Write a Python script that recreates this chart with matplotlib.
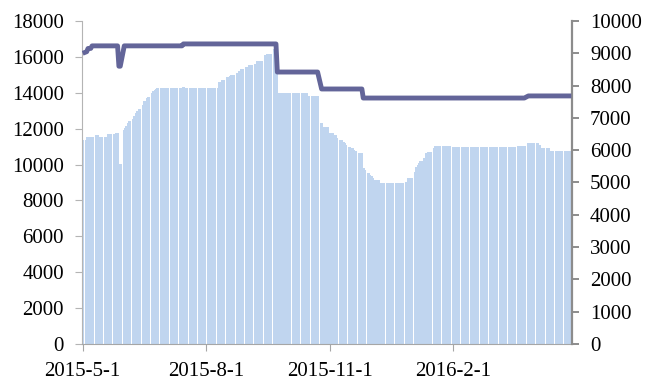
import matplotlib.pyplot as plt
import numpy as np
import pandas as pd

# trading days, one bar per weekday
dates = pd.bdate_range('2015-05-01', '2016-04-29')

# daily bars (left axis), month by month
bar_may = [11370, 11370, 11550, 11550, 11550, 11550, 11650, 11650, 11550, 11550, 11550,
           11550, 11550, 11690, 11690, 11690, 11690, 11780, 11780, 10010, 10010]
bar_jun = [11920, 12050, 12150, 12330, 12400, 12540, 12700, 12850, 13000, 13080, 13300,
           13550, 13560, 13700, 13780, 14000, 14100, 14150, 14200, 14250, 14250, 14250]
bar_jul = [14250, 14250, 14250, 14250, 14250, 14250, 14250, 14250, 14250, 14250, 14340,
           14250, 14250, 14250, 14250, 14250, 14250, 14250, 14250, 14250, 14250, 14250, 14250]
bar_aug = [14250, 14250, 14250, 14250, 14250, 14250, 14620, 14620, 14700, 14710, 14860,
           14900, 14950, 14990, 14990, 15080, 15080, 15200, 15310, 15310, 15420]
bar_sep = [15420, 15550, 15550, 15550, 15590, 15790, 15790, 15790, 15790, 16110, 16110,
           16160, 16160, 16160, 16420, 16420, 13820, 13970, 13970, 13970, 13970, 13970]
bar_oct = [13970, 13970, 13970, 13970, 13970, 13970, 13970, 13970, 13970, 13970, 13970,
           13840, 13840, 13840, 13840, 13840, 13840, 12300, 12110, 12110, 12110, 12110]
bar_nov = [11740, 11740, 11650, 11650, 11500, 11370, 11370, 11250, 11180, 11100, 11000,
           10950, 10900, 10810, 10750, 10660, 10660, 10660, 9790, 9700, 9510]
bar_dec = [9420, 9360, 9250, 9140, 9140, 8970, 8950, 8950, 8950, 8950, 8950, 8950,
           8950, 8950, 8950, 8950, 8950, 8950, 8950, 9050, 9050, 9230, 9230]
bar_jan = [9230, 9600, 9880, 10000, 10100, 10200, 10350, 10630, 10660, 10720, 10720,
           10900, 11030, 11030, 11030, 11030, 11030, 11030, 11030, 11030, 11030]
bar_feb = [10960, 10960, 10960, 10960, 10960, 10960, 10960, 10960, 10960, 10960, 10960,
           10960, 10960, 10960, 10960, 10960, 10960, 10960, 10960, 10960, 10960]
bar_mar = [10960, 10960, 10960, 10960, 10960, 10960, 10960, 10960, 10960, 10960, 10960,
           10960, 10960, 10960, 11050, 11050, 11050, 11050, 11050, 11180, 11180, 11180, 11180]
bar_apr = [11180, 11180, 11090, 10900, 10900, 10900, 10900, 10900, 10760, 10760, 10760,
           10760, 10760, 10760, 10760, 10760, 10760, 10760, 10760, 10760, 10760]

# daily line (right axis)
line_may = [9000, 9050, 9150, 9150, 9150, 9230, 9230, 9230, 9230, 9230, 9230,
            9230, 9230, 9230, 9230, 9230, 9230, 9230, 9230, 8600, 8600]
line_jun = [9230, 9230, 9230, 9230, 9230, 9230, 9230, 9230, 9230, 9230, 9230,
            9230, 9230, 9230, 9230, 9230, 9230, 9230, 9230, 9230, 9230, 9230]
line_jul = [9230, 9230, 9230, 9230, 9230, 9230, 9230, 9230, 9230, 9230, 9290,
            9290, 9290, 9290, 9290, 9290, 9290, 9290, 9290, 9290, 9290, 9290, 9290]
line_aug = [9290, 9290, 9290, 9290, 9290, 9290, 9290, 9290, 9290, 9290, 9290,
            9290, 9290, 9290, 9290, 9290, 9290, 9290, 9290, 9290, 9290]
line_sep = [9290, 9290, 9290, 9290, 9290, 9290, 9290, 9290, 9290, 9290, 9290,
            9290, 9290, 9290, 9290, 9290, 8420, 8420, 8420, 8420, 8420, 8420]
line_oct = [8420, 8420, 8420, 8420, 8420, 8420, 8420, 8420, 8420, 8420, 8420,
            8420, 8420, 8420, 8420, 8420, 8420, 7895, 7895, 7895, 7895, 7895]
line_nov = [7895, 7895, 7895, 7895, 7895, 7895, 7895, 7895, 7895, 7895, 7895,
            7895, 7895, 7895, 7895, 7895, 7895, 7895, 7615, 7615, 7615]
line_dec = [7615, 7615, 7615, 7615, 7615, 7615, 7615, 7615, 7615, 7615, 7615, 7615,
            7615, 7615, 7615, 7615, 7615, 7615, 7615, 7615, 7615, 7615, 7615]
line_jan = [7615, 7615, 7615, 7615, 7615, 7615, 7615, 7615, 7615, 7615, 7615,
            7615, 7615, 7615, 7615, 7615, 7615, 7615, 7615, 7615, 7615]
line_feb = [7615, 7615, 7615, 7615, 7615, 7615, 7615, 7615, 7615, 7615, 7615,
            7615, 7615, 7615, 7615, 7615, 7615, 7615, 7615, 7615, 7615]
line_mar = [7615, 7615, 7615, 7615, 7615, 7615, 7615, 7615, 7615, 7615, 7615,
            7615, 7615, 7615, 7615, 7615, 7615, 7615, 7615, 7680, 7680, 7680, 7680]
line_apr = [7680, 7680, 7680, 7680, 7680, 7680, 7680, 7680, 7680, 7680, 7680,
            7680, 7680, 7680, 7680, 7680, 7680, 7680, 7680, 7680, 7680]

bars = np.array(bar_may + bar_jun + bar_jul + bar_aug + bar_sep + bar_oct +
                bar_nov + bar_dec + bar_jan + bar_feb + bar_mar + bar_apr)
line = np.array(line_may + line_jun + line_jul + line_aug + line_sep + line_oct +
                line_nov + line_dec + line_jan + line_feb + line_mar + line_apr)

tick_dates = pd.to_datetime(['2015-05-01', '2015-08-01', '2015-11-01', '2016-02-01'])
tick_labels = ['2015-5-1', '2015-8-1', '2015-11-1', '2016-2-1']

plt.rcParams['font.family'] = ['Liberation Serif', 'DejaVu Serif']

fig = plt.figure(figsize=(6.57, 3.81), dpi=100)
ax = fig.add_axes([0.1248, 0.0971, 0.7458, 0.8478])
ax2 = ax.twinx()

# wide bars so weekends only show as lighter stripes
ax.bar(dates, bars, width=2.3, color='#c0d5ef', edgecolor='none', zorder=2)
ax2.plot(dates, line, color='#636599', lw=3.5, solid_joinstyle='round',
         solid_capstyle='butt', zorder=3)

ax.set_xlim(pd.Timestamp('2015-05-01') - pd.Timedelta(hours=12),
            pd.Timestamp('2016-04-29') + pd.Timedelta(hours=12))
ax.set_ylim(0, 18000)
ax.set_yticks(np.arange(0, 18001, 2000))
ax2.set_ylim(0, 10000)
ax2.set_yticks(np.arange(0, 10001, 1000))
ax.set_xticks(tick_dates)
ax.set_xticklabels(tick_labels)

for a in (ax, ax2):
    a.spines['top'].set_visible(False)
ax2.spines['left'].set_visible(False)
ax2.spines['bottom'].set_visible(False)
ax.spines['right'].set_visible(False)
ax.spines['left'].set_color('#b4b4b4')
ax.spines['bottom'].set_color('#a6a6a6')
ax2.spines['right'].set_color('#8c8c8c')
ax2.spines['right'].set_linewidth(1.6)

ax.tick_params(axis='y', length=5, color='#b4b4b4', labelsize=15, pad=8)
ax.tick_params(axis='x', length=5, color='#a6a6a6', labelsize=15, pad=8)
ax2.tick_params(axis='y', length=5, color='#8c8c8c', width=1.4, labelsize=15, pad=8)

fig.savefig('out.png', dpi=100)
